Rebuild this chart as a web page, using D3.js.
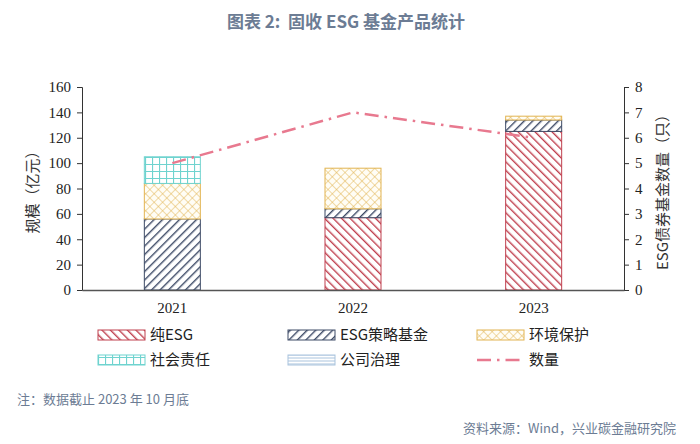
<!DOCTYPE html>
<html>
<head>
<meta charset="utf-8">
<script src="https://cdn.jsdelivr.net/npm/d3@7"></script>
<style>
  body { margin: 0; background: #fff; }
  svg { display: block; }
</style>
</head>
<body>
<div class="container"></div>
<script>
// data
const years = ["2021", "2022", "2023"];
const pureEsg = [0, 57, 125];
const esgStrategy = [56, 7, 9];
const environment = [28, 32, 3];
const social = [21, 0, 0];
const governance = [0, 0, 0];
const fundCount = [5, 7, 6];
const leftTicks = [0, 20, 40, 60, 80, 100, 120, 140, 160];
const rightTicks = [0, 1, 2, 3, 4, 5, 6, 7, 8];

const seriesNames = ["纯ESG", "ESG策略基金", "环境保护", "社会责任", "公司治理"];
const seriesValues = [pureEsg, esgStrategy, environment, social, governance];
const seriesPatterns = ["p-pure", "p-strat", "p-env", "p-soc", "p-gov"];
const seriesStroke = ["#c0404f", "#3d4a66", "#e2b452", "#6fd3cf", "#a9c3dd"];

const svgWidth = 700, svgHeight = 444;
const margin = { top: 87, right: 76, bottom: 154, left: 82 };
const width = svgWidth - margin.left - margin.right;
const height = svgHeight - margin.top - margin.bottom;

const svg = d3.select(".container").append("svg")
    .attr("width", svgWidth)
    .attr("height", svgHeight);

// patterns
const defs = svg.append("defs");
function hatch(id, color, angle, gap, sw) {
    const p = defs.append("pattern")
        .attr("id", id)
        .attr("patternUnits", "userSpaceOnUse")
        .attr("width", gap).attr("height", gap)
        .attr("patternTransform", `rotate(${angle})`);
    p.append("rect").attr("width", gap).attr("height", gap).attr("fill", "#fff");
    p.append("line").attr("x1", 0).attr("y1", 0).attr("x2", 0).attr("y2", gap)
        .attr("stroke", color).attr("stroke-width", sw);
}
hatch("p-pure", "#c0404f", -45, 6, 2.8);
hatch("p-strat", "#3d4a66", 45, 6, 2.8);

const env = defs.append("pattern").attr("id", "p-env")
    .attr("patternUnits", "userSpaceOnUse").attr("width", 6).attr("height", 6)
    .attr("patternTransform", "rotate(45)");
env.append("rect").attr("width", 6).attr("height", 6).attr("fill", "#fffdf5");
env.append("path").attr("d", "M0,0V6M0,0H6").attr("stroke", "#e2b452").attr("stroke-width", 1);

const soc = defs.append("pattern").attr("id", "p-soc")
    .attr("patternUnits", "userSpaceOnUse").attr("width", 7).attr("height", 7);
soc.append("rect").attr("width", 7).attr("height", 7).attr("fill", "#fff");
soc.append("path").attr("d", "M0.5,0V7M0,0.5H7").attr("stroke", "#6fd3cf").attr("stroke-width", 1.2);

const gov = defs.append("pattern").attr("id", "p-gov")
    .attr("patternUnits", "userSpaceOnUse").attr("width", 4).attr("height", 3);
gov.append("rect").attr("width", 4).attr("height", 3).attr("fill", "#fff");
gov.append("path").attr("d", "M0,1H4").attr("stroke", "#a9c3dd").attr("stroke-width", 1);

const chartGroup = svg.append("g")
    .attr("transform", `translate(${margin.left}, ${margin.top})`);

// scales
const x = d3.scaleBand().domain(years).range([0, width]).paddingInner(0.69).paddingOuter(0.345);
const y = d3.scaleLinear().domain([0, 160]).range([height, 0]);
const y2 = d3.scaleLinear().domain([0, 8]).range([height, 0]);

const tickFont = "'Liberation Serif', 'Times New Roman', serif";

// axes
const leftAxis = d3.axisLeft(y).tickValues(leftTicks).tickSize(5).tickPadding(6);
const rightAxis = d3.axisRight(y2).tickValues(rightTicks).tickSize(5).tickPadding(6);

const gl = chartGroup.append("g").call(leftAxis);
const gr = chartGroup.append("g").attr("transform", `translate(${width},0)`).call(rightAxis);
[gl, gr].forEach(g => {
    g.select(".domain").attr("stroke", "#333");
    g.selectAll(".tick line").attr("stroke", "#333");
    g.selectAll("text").attr("font-family", tickFont).attr("font-size", 15).attr("fill", "#222");
});

// stacked bars
const stackData = years.map((yr, i) => {
    const o = { year: yr };
    seriesNames.forEach((n, k) => o[n] = seriesValues[k][i]);
    return o;
});
const stack = d3.stack().keys(seriesNames)(stackData);

stack.forEach((layer, k) => {
    chartGroup.append("g").selectAll("rect")
        .data(layer.filter(d => d[1] - d[0] > 0))
        .enter()
        .append("rect")
        .attr("x", d => x(d.data.year))
        .attr("y", d => y(d[1]))
        .attr("width", x.bandwidth())
        .attr("height", d => y(d[0]) - y(d[1]))
        .attr("fill", `url(#${seriesPatterns[k]})`)
        .attr("stroke", seriesStroke[k])
        .attr("stroke-width", 1);
});

// bottom axis
const bottomAxis = d3.axisBottom(x).tickSize(0).tickPadding(12);
const gb = chartGroup.append("g").attr("transform", `translate(0, ${height})`).call(bottomAxis);
gb.select(".domain").attr("stroke", "#555").attr("stroke-width", 1.5);
gb.selectAll("text").attr("font-family", tickFont).attr("font-size", 15).attr("fill", "#222");

// count line
const line = d3.line()
    .x((d, i) => x(years[i]) + x.bandwidth() / 2)
    .y(d => y2(d));
chartGroup.append("path")
    .datum(fundCount)
    .attr("d", line)
    .attr("fill", "none")
    .attr("stroke", "#e8798f")
    .attr("stroke-width", 2.5)
    .attr("stroke-dasharray", "14,6,2.5,6");

// axis titles
const cjk = "'Noto Sans CJK SC', sans-serif";
svg.append("text")
    .attr("transform", `translate(38, ${margin.top + height / 2}) rotate(-90)`)
    .attr("text-anchor", "middle")
    .attr("font-family", cjk).attr("font-size", 15).attr("fill", "#333")
    .text("规模（亿元）");
svg.append("text")
    .attr("transform", `translate(668, ${margin.top + height / 2}) rotate(-90)`)
    .attr("text-anchor", "middle")
    .attr("font-family", cjk).attr("font-size", 15).attr("fill", "#333")
    .text("ESG债券基金数量（只）");

// legend
const legendItems = [
    { name: "纯ESG", type: "rect", k: 0, x: 98, y: 335 },
    { name: "ESG策略基金", type: "rect", k: 1, x: 288, y: 335 },
    { name: "环境保护", type: "rect", k: 2, x: 477, y: 335 },
    { name: "社会责任", type: "rect", k: 3, x: 98, y: 360 },
    { name: "公司治理", type: "rect", k: 4, x: 288, y: 360 },
    { name: "数量", type: "line", x: 477, y: 360 }
];
const lg = svg.append("g");
legendItems.forEach(it => {
    if (it.type === "rect") {
        lg.append("rect")
            .attr("x", it.x).attr("y", it.y - 5)
            .attr("width", 47).attr("height", 10)
            .attr("fill", `url(#${seriesPatterns[it.k]})`)
            .attr("stroke", seriesStroke[it.k]);
    } else {
        lg.append("line")
            .attr("x1", it.x).attr("x2", it.x + 48)
            .attr("y1", it.y).attr("y2", it.y)
            .attr("stroke", "#e8798f").attr("stroke-width", 2.5)
            .attr("stroke-dasharray", "14,6,2.5,6");
    }
    lg.append("text")
        .attr("x", it.x + 52).attr("y", it.y)
        .attr("dy", "0.36em")
        .attr("font-family", cjk).attr("font-size", 15).attr("fill", "#222")
        .text(it.name);
});

// title and notes
svg.append("text")
    .attr("x", 346).attr("y", 28)
    .attr("text-anchor", "middle")
    .style("white-space", "pre")
    .attr("font-family", cjk).attr("font-size", 17).attr("font-weight", "bold")
    .attr("fill", "#6c7c94")
    .text("图表 2:  固收 ESG 基金产品统计");
svg.append("text")
    .attr("x", 17).attr("y", 404)
    .attr("font-family", cjk).attr("font-size", 13)
    .attr("fill", "#6c7c94")
    .text("注：数据截止 2023 年 10 月底");
svg.append("text")
    .attr("x", 676).attr("y", 433)
    .attr("text-anchor", "end")
    .attr("font-family", cjk).attr("font-size", 13)
    .attr("fill", "#6c7c94")
    .text("资料来源：Wind，兴业碳金融研究院");
</script>
</body>
</html>
